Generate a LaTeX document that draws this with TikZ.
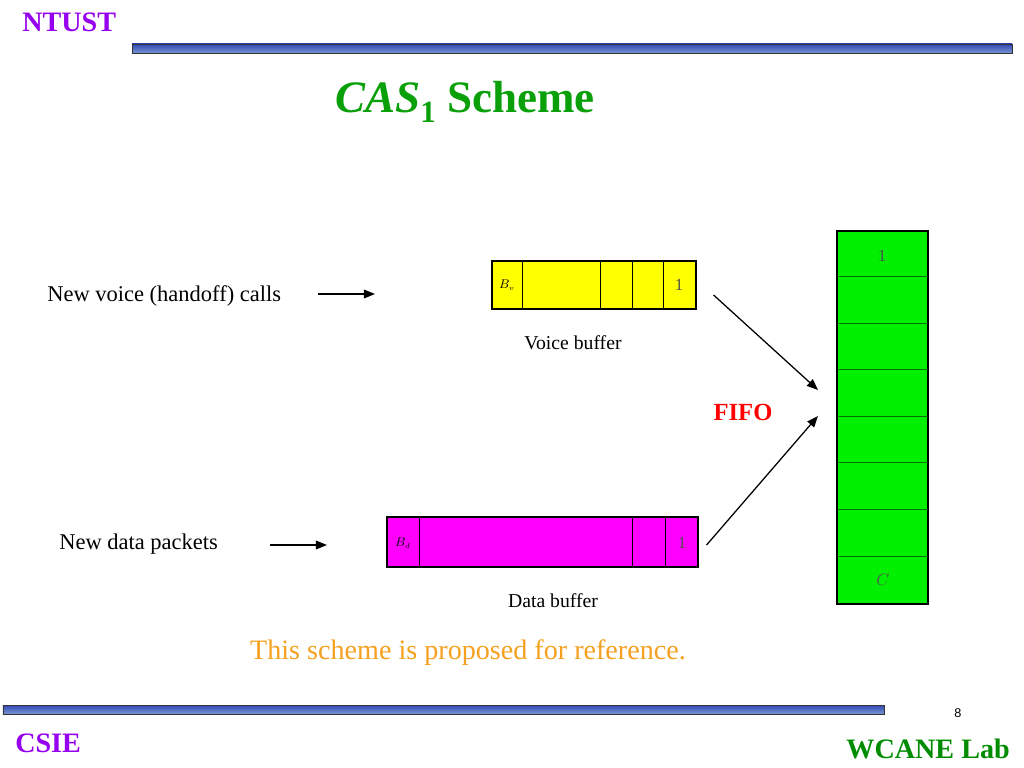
\documentclass[tikz,border=0pt]{standalone}
\usepackage{fontspec}
\setmainfont{Liberation Serif}
\newfontfamily\pagenumfont{Liberation Sans}
\usetikzlibrary{positioning,calc,arrows.meta}

\definecolor{ntpurple}{RGB}{150,0,240}
\definecolor{labgreen}{RGB}{0,140,0}
\definecolor{titlegreen}{RGB}{10,160,10}
\definecolor{notecolor}{RGB}{245,160,30}
\definecolor{barblue}{RGB}{50,70,180}
\definecolor{barlight}{RGB}{120,150,210}
\definecolor{queuegreen}{RGB}{0,240,0}
\definecolor{vyellow}{RGB}{255,255,0}
\definecolor{dmagenta}{RGB}{255,0,255}
\definecolor{cellgray}{RGB}{80,80,80}

\begin{document}
\begin{tikzpicture}[font=\small, >={Triangle[length=2.8mm,width=2.2mm]}, txt/.style={inner sep=0pt}]
  \useasboundingbox (0,0) rectangle (25.6,-19.2);
  % header and footer bars
  \node[draw=black!80, line width=0.6pt, top color=barblue, bottom color=barlight, inner sep=0pt, minimum width=22cm, minimum height=0.225cm] (topbar) at (14.3,-1.2125) {};
  \node[draw=black!80, line width=0.6pt, top color=barblue, bottom color=barlight, inner sep=0pt, minimum width=22.025cm, minimum height=0.225cm] (botbar) at (11.0875,-17.7375) {};
  \node[txt, anchor=base west, text=ntpurple, font=\fontsize{20}{24}\selectfont\bfseries] (ntust) at (0.55,-0.8) {NTUST};
  \node[txt, anchor=base west, text=ntpurple, font=\fontsize{20}{24}\selectfont\bfseries] (csie) at (0.375,-18.8) {CSIE};
  \node[txt, anchor=base east, text=labgreen, font=\fontsize{20}{24}\selectfont\bfseries] (wcane) at (25.25,-18.95) {WCANE Lab};
  \node[txt, font=\pagenumfont\fontsize{9}{11}\selectfont] (pagenum) at (23.95,-17.825) {8};
  \node[txt, anchor=base west, text=titlegreen, font=\fontsize{32}{38}\selectfont\bfseries] (title) at (8.375,-2.825) {\textit{CAS}\raisebox{-0.22em}{\fontsize{22}{26}\selectfont 1} Scheme};

  % voice buffer
  \node[draw, line width=0.8pt, fill=vyellow, inner sep=0pt, minimum width=5.1cm, minimum height=1.2cm] (vbuf) at (14.85,-7.125) {};
  \foreach \d in {0.775,2.725,3.525,4.3}
    \draw[line width=0.8pt] ($(vbuf.south west)+(\d,0)$) -- ($(vbuf.north west)+(\d,0)$);
  \node[txt, font=\fontsize{9}{11}\selectfont] (bv) at (12.675,-7.125) {$B_{\scriptscriptstyle v}$};
  \node[txt, text=cellgray, font=\fontsize{12}{14}\selectfont] (vone) at (16.975,-7.125) {1};
  \node[txt, anchor=base, font=\fontsize{14}{17}\selectfont] (vlabel) at (14.325,-8.725) {Voice buffer};

  % data buffer
  \node[draw, line width=0.8pt, fill=dmagenta, inner sep=0pt, minimum width=7.775cm, minimum height=1.25cm] (dbuf) at (13.5625,-13.55) {};
  \foreach \d in {0.825,6.15,6.975}
    \draw[line width=0.8pt] ($(dbuf.south west)+(\d,0)$) -- ($(dbuf.north west)+(\d,0)$);
  \node[txt, font=\fontsize{9}{11}\selectfont] (bd) at (10.075,-13.575) {$B_{\scriptscriptstyle d}$};
  \node[txt, text=cellgray, font=\fontsize{12}{14}\selectfont] (done) at (17.05,-13.575) {1};
  \node[txt, anchor=base, font=\fontsize{14}{17}\selectfont] (dlabel) at (13.825,-15.175) {Data buffer};

  % shared FIFO queue
  \node[draw, line width=2pt, fill=queuegreen, inner sep=0pt, minimum width=2.275cm, minimum height=9.325cm] (queue) at (22.0625,-10.4375) {};
  \foreach \i in {1,...,7}
    \draw[green!45!black, line width=0.4pt] ($(queue.north west)+(0.05,-\i*1.1656)$) -- ($(queue.north east)+(-0.05,-\i*1.1656)$);
  \node[txt, text=cellgray, font=\fontsize{12}{14}\selectfont] (qone) at (22.05,-6.4) {1};
  \node[txt, text=cellgray, font=\fontsize{12}{14}\selectfont] (qlast) at (22.075,-14.5) {$C$};
  \node[txt, anchor=base, text=red, font=\fontsize{17.5}{21}\selectfont\bfseries] (fifo) at (18.575,-10.5) {FIFO};

  % sources
  \node[txt, anchor=base west, font=\fontsize{16}{19}\selectfont] (voice) at (1.175,-7.525) {New voice (handoff) calls};
  \node[txt, anchor=base west, font=\fontsize{16}{19}\selectfont] (data) at (1.475,-13.725) {New data packets};
  \node[txt, anchor=base, text=notecolor, font=\fontsize{20}{24}\selectfont] (note) at (11.7,-16.475) {This scheme is proposed for reference.};

  \coordinate (vinS) at (7.95,-7.35);
  \coordinate (vinE) at (9.375,-7.35);
  \coordinate (dinS) at (6.75,-13.625);
  \coordinate (dinE) at (8.175,-13.625);
  \coordinate (vout) at ($(vbuf.east)+(0.425,-0.25)$);
  \coordinate (dout) at ($(dbuf.east)+(0.2,-0.075)$);
  \coordinate (qinA) at (20.45,-9.75);
  \coordinate (qinB) at (20.45,-10.4);
  \draw[->, line width=0.9pt] (vinS) -- (vinE);
  \draw[->, line width=0.9pt] (dinS) -- (dinE);
  \draw[->, line width=0.9pt] (vout) -- (qinA);
  \draw[->, line width=0.9pt] (dout) -- (qinB);
\end{tikzpicture}
\end{document}
